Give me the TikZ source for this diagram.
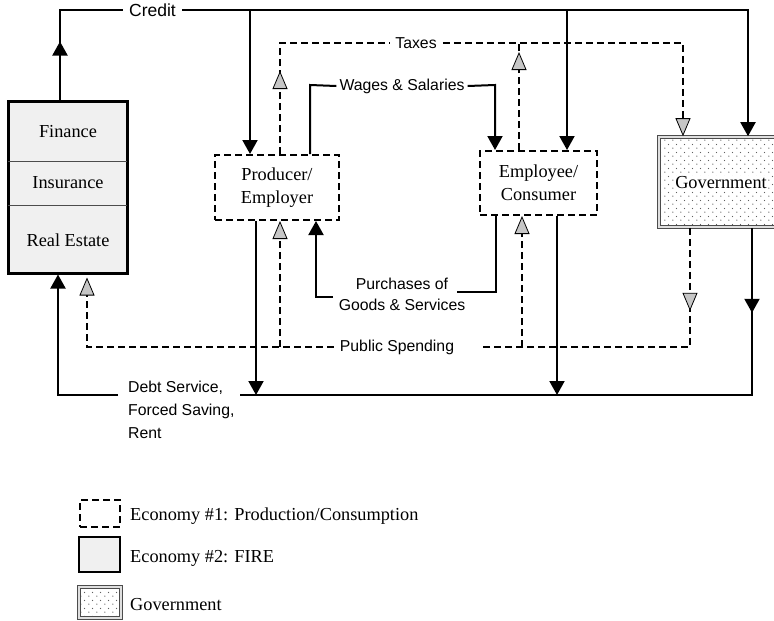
\documentclass[tikz,border=0pt]{standalone}
\usepackage{fontspec}
\newfontfamily\labelfont{Liberation Sans}
\newfontfamily\boxfont{Liberation Serif}
\usetikzlibrary{arrows.meta,decorations.markings,patterns.meta}

\tikzdeclarepattern{
	name=govdots,
	type=uncolored,
	bounding box={(0,0) and (8pt,8pt)},
	tile size={(8pt,8pt)},
	code={
		\fill (1pt,1pt) circle (0.75pt);
		\fill (5pt,5pt) circle (0.75pt);
	}
}

\begin{document}
\begin{tikzpicture}[x=1pt,y=1pt,
	flow/.style={black,line width=2pt},
	dflow/.style={black,line width=2pt,dash pattern=on 7pt off 4pt},
	blk/.style={-{Triangle[width=15pt,length=14pt]}},
	gry/.style={-{Triangle[width=15pt,length=18pt,fill=gray!45,line width=0.8pt]}},
	blkmid/.style={postaction={decorate},decoration={markings,
		mark=at position #1 with {\arrow{Triangle[width=15pt,length=14pt]}}}},
	grymid/.style={postaction={decorate},decoration={markings,
		mark=at position #1 with {\arrow{Triangle[width=15pt,length=18pt,fill=gray!45,line width=0.8pt]}}}},
	serif/.style={font=\boxfont\fontsize{18.3}{23}\selectfont},
	lbl/.style={font=\labelfont\fontsize{15.8}{21}\selectfont,inner xsep=6pt},
	econbox/.style={draw,line width=2pt,dash pattern=on 7pt off 4pt,align=center,serif},
	firebox/.style={draw,line width=3pt,fill=gray!12},
	govbox/.style={draw=gray!60!black,line width=1.6pt,double=gray!25,double distance=1.4pt,
		pattern=govdots,pattern color=gray!75!black}]
	\tikzstyle{every node}+=[inner sep=0pt]
	\useasboundingbox (0,0) rectangle (774,-621);
	\clip (0,0) rectangle (774,-621);
	\node [firebox,minimum width=119pt,minimum height=172pt] (fire) at (67.5,-187) {};
	\draw [gray!60!black,line width=1pt] (8,-161) -- (127,-161);
	\draw [gray!60!black,line width=1pt] (8,-205) -- (127,-205);
	\node [serif] (fin) at (68,-132) {Finance};
	\node [serif] (ins) at (68,-183) {Insurance};
	\node [serif] (re) at (68,-240) {Real Estate};
	\node [econbox,minimum width=124pt,minimum height=65pt] (prod) at (277,-187.5) {Producer/\\Employer};
	\node [econbox,minimum width=117pt,minimum height=64pt] (empl) at (538.5,-183) {Employee/\\Consumer};
	\node [govbox,minimum width=150pt,minimum height=90pt] (gov) at (734,-182) {};
	\node [serif,fill=white,inner sep=1pt] (govt) at (721,-183) {Government};
	\node [lbl,font=\labelfont\fontsize{17.5}{21}\selectfont] (credit) at (152.5,-10) {Credit};
	\node [lbl] (taxes) at (416,-43) {Taxes};
	\node [lbl,inner xsep=3pt] (wages) at (402,-86) {Wages \& Salaries};
	\node [lbl,align=center] (purch) at (402,-294.5) {Purchases of\\Goods \& Services};
	\node [lbl] (pubsp) at (397,-347) {Public Spending};
	\node [lbl,align=left,anchor=north west,inner xsep=0pt,font=\labelfont\fontsize{15.8}{23}\selectfont] (debt) at (128,-381) {Debt Service,\\Forced Saving,\\Rent};
	\coordinate (cr0) at (60,-10);
	\coordinate (cr1) at (748,-10);
	\coordinate (cr2) at (250,-10);
	\coordinate (cr3) at (567,-10);
	\draw [flow,blkmid=58pt] (cr0 |- fire.north) -- (cr0) -- (credit.west);
	\draw [flow,blk] (credit.east) -- (cr1) -- (cr1 |- gov.north);
	\draw [flow,blk] (cr2) -- (cr2 |- prod.north);
	\draw [flow,blk] (cr3) -- (cr3 |- empl.north);
	\coordinate (tx1) at (280,-43);
	\coordinate (tx2) at (683,-43);
	\coordinate (tx3) at (519,-43);
	\draw [dflow,grymid=83pt] (tx1 |- prod.north) -- (tx1) -- (taxes.west);
	\draw [dflow,gry] (taxes.east) -- (tx2) -- (tx2 |- gov.north);
	\draw [dflow,grymid=98pt] (tx3 |- empl.north) -- (tx3);
	\coordinate (wg1) at (310,-85);
	\coordinate (wg2) at (495,-85);
	\draw [flow] (wg1 |- prod.north) -- (wg1) -- (wages.west);
	\draw [flow,blk] (wages.east) -- (wg2) -- (wg2 |- empl.north);
	\coordinate (pu1) at (496,-292);
	\coordinate (pu2) at (457,-292);
	\coordinate (pu3) at (333,-297);
	\coordinate (pu4) at (316,-297);
	\draw [flow] (pu1 |- empl.south) -- (pu1) -- (pu2);
	\draw [flow,blk] (pu3) -- (pu4) -- (pu4 |- prod.south);
	\coordinate (ps1) at (87,-347);
	\coordinate (ps2) at (280,-347);
	\coordinate (ps3) at (690,-347);
	\coordinate (ps4) at (481,-347);
	\coordinate (ps5) at (522,-347);
	\draw [dflow,gry,shorten >=3pt] (pubsp.west) -- (ps1) -- (ps1 |- fire.south);
	\draw [dflow,gry] (ps2) -- (ps2 |- prod.south);
	\draw [dflow,grymid=83pt] (ps3 |- gov.south) -- (ps3) -- (ps4);
	\draw [dflow,gry] (ps5) -- (ps5 |- empl.south);
	\coordinate (ds0) at (118,-395);
	\coordinate (ds1) at (58,-395);
	\coordinate (ds2) at (752,-395);
	\coordinate (ds3) at (240,-395);
	\coordinate (ds4) at (256,-395);
	\coordinate (ds5) at (557,-395);
	\draw [flow,blk] (ds0) -- (ds1) -- (ds1 |- fire.south);
	\draw [flow,blkmid=85pt] (ds2 |- gov.south) -- (ds2) -- (ds3);
	\draw [flow,blk] (ds4 |- prod.south) -- (ds4);
	\draw [flow,blk] (ds5 |- empl.south) -- (ds5);
	\node [econbox,minimum width=40pt,minimum height=27pt] (lg1) at (100,-513.5) {};
	\node [serif,anchor=west] (lg1t) at (130,-516) {Economy \#1: Production/Consumption};
	\node [firebox,line width=2.5pt,minimum width=41pt,minimum height=35pt] (lg2) at (99.5,-554.5) {};
	\node [serif,anchor=west] (lg2t) at (130,-558) {Economy \#2: FIRE};
	\node [govbox,minimum width=42pt,minimum height=31pt] (lg3) at (100,-602.5) {};
	\node [serif,anchor=west] (lg3t) at (130,-605) {Government};
\end{tikzpicture}
\end{document}
